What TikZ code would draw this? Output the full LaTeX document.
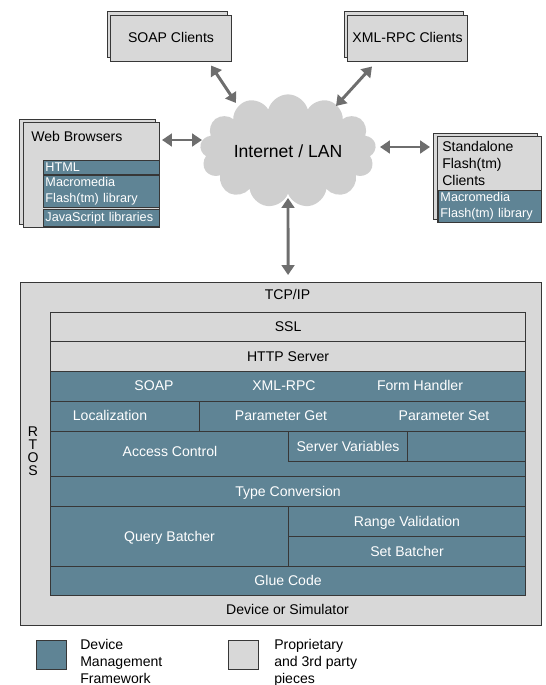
\documentclass[tikz,border=0pt]{standalone}
\usepackage{fontspec}
\setmainfont{Liberation Sans}
\usetikzlibrary{shapes.symbols,shadows,arrows.meta,calc}

\definecolor{dmfblue}{RGB}{95,132,149}
\definecolor{panegray}{RGB}{216,216,216}
\definecolor{cloudgray}{RGB}{207,207,207}
\definecolor{arrowgray}{RGB}{110,110,110}
\definecolor{edgegray}{RGB}{55,55,55}

\begin{document}
\begin{tikzpicture}[x=0.025cm, y=-0.025cm,
	font=\fontsize{10}{12}\selectfont,
	pane/.style={draw=edgegray, fill=panegray, line width=0.7pt, inner sep=0pt, text height=7pt, text depth=0pt},
	dmf/.style={draw=edgegray, fill=dmfblue, text=white, line width=0.7pt, inner sep=0pt, text height=7pt, text depth=0pt},
	client/.style={pane, copy shadow={shadow xshift=-0.9mm, shadow yshift=0.8mm, fill=panegray, draw=edgegray, line width=0.7pt}},
	sub/.style={dmf, anchor=north west, align=left, font=\fontsize{9}{11.5}\selectfont, inner xsep=0.05cm, inner ysep=0pt, text height=, text depth=},
	lbl/.style={inner sep=0pt, text height=7pt, text depth=0pt},
	wlbl/.style={lbl, text=white},
	txtblock/.style={inner sep=0pt, align=left, anchor=north west},
	conn/.style={draw=arrowgray, line width=2.1pt, {Triangle[length=7pt,width=9pt]}-{Triangle[length=7pt,width=9pt]}}
]
	\useasboundingbox (0,0) rectangle (546,685);

	\node[cloud, cloud puffs=13, aspect=1.75, fill=cloudgray, minimum width=4.4cm, minimum height=2.55cm, inner sep=0pt, font=\fontsize{12.5}{15}\selectfont] (net) at (288,151) {Internet / LAN};

	\node[client, minimum width=3cm, minimum height=1.15cm] (soap) at (171,38) {SOAP Clients};
	\node[client, minimum width=2.975cm, minimum height=1.15cm] (xmlrpc) at (407.5,38) {XML-RPC Clients};

	\node[client, anchor=north west, minimum width=3.4cm, minimum height=2.625cm] (web) at (23,122) {};
	\node[lbl, anchor=west] (webtxt) at (31,137) {Web Browsers};
	\node[sub, text width=2.8cm, minimum height=0.35cm] (html) at (43,160) {HTML};
	\node[sub, text width=2.8cm, minimum height=0.8cm] (flashlib) at (43,175) {Macromedia\\Flash(tm) library};
	\node[sub, text width=2.8cm, minimum height=0.425cm] (jslib) at (43,209) {JavaScript libraries};

	\node[client, anchor=north west, minimum width=2.6cm, minimum height=2.15cm] (standalone) at (437,136) {};
	\node[txtblock] (satxt) at (442,141) {Standalone\\Flash(tm)\\Clients};
	\node[sub, text width=2.475cm, minimum height=0.8cm] (saflash) at (438,190) {Macromedia\\Flash(tm) library};

	\node[pane, anchor=north west, minimum width=13.025cm, minimum height=8.575cm] (rtos) at (20,282) {};
	\node[lbl] (tcpip) at (287.5,295) {TCP/IP};
	\node[txtblock, anchor=north, align=center, font=\fontsize{10}{9.25}\selectfont] (rtostxt) at (33,427) {R\\T\\O\\S};
	\node[pane, anchor=north west, minimum width=11.875cm, minimum height=0.725cm] (ssl) at (50,312) {SSL};
	\node[pane, anchor=north west, minimum width=11.875cm, minimum height=0.75cm] (http) at (50,341) {HTTP Server};
	\node[dmf, anchor=north west, minimum width=11.875cm, minimum height=0.75cm] (proto) at (50,371) {};
	\node[wlbl] (soaplbl) at (154,386) {SOAP};
	\node[wlbl] (xmllbl) at (284,386) {XML-RPC};
	\node[wlbl] (formlbl) at (420,386) {Form Handler};
	\node[dmf, anchor=north west, minimum width=3.725cm, minimum height=0.75cm] (loc) at (50,401) {};
	\node[wlbl] (loclbl) at (110,416) {Localization};
	\node[dmf, anchor=north west, minimum width=8.15cm, minimum height=0.75cm] (param) at (199,401) {};
	\node[wlbl] (getlbl) at (281,416) {Parameter Get};
	\node[wlbl] (setlbl) at (444,416) {Parameter Set};
	\node[dmf, anchor=north west, minimum width=11.875cm, minimum height=1.125cm] (access) at (50,431) {};
	\node[wlbl] (acclbl) at (170,452) {Access Control};
	\node[dmf, anchor=north west, minimum width=2.975cm, minimum height=0.75cm] (srvvars) at (288,431) {Server Variables};
	\node[dmf, anchor=north west, minimum width=2.95cm, minimum height=0.75cm] (spare) at (407,431) {};
	\node[dmf, anchor=north west, minimum width=11.875cm, minimum height=0.75cm] (typeconv) at (50,476) {Type Conversion};
	\node[dmf, anchor=north west, minimum width=5.95cm, minimum height=1.5cm] (query) at (50,506) {Query Batcher};
	\node[dmf, anchor=north west, minimum width=5.925cm, minimum height=0.75cm] (range) at (288,506) {Range Validation};
	\node[dmf, anchor=north west, minimum width=5.925cm, minimum height=0.75cm] (setbatch) at (288,536) {Set Batcher};
	\node[dmf, anchor=north west, minimum width=11.875cm, minimum height=0.725cm] (glue) at (50,566) {Glue Code};
	\node[lbl] (device) at (287.5,610) {Device or Simulator};

	\node[dmf, anchor=north west, minimum width=0.75cm, minimum height=0.725cm] (legdmf) at (36,640) {};
	\node[txtblock] (legdmftxt) at (80,639) {Device\\Management\\Framework};
	\node[pane, anchor=north west, minimum width=0.75cm, minimum height=0.725cm] (legpane) at (228,640) {};
	\node[txtblock] (legpanetxt) at (274,639) {Proprietary\\and 3rd party\\pieces};

	\draw[conn] ($(soap.south)+(40,4)$) -- ($(net.center)+(-52,-48)$);
	\draw[conn] ($(xmlrpc.south)+(-35.5,5)$) -- ($(net.center)+(48,-45)$);
	\draw[conn] ($(web.north east)+(2,18)$) -- ($(net.center)+(-86,-11)$);
	\draw[conn] ($(net.center)+(92,-4)$) -- ($(standalone.north west)+(-7,11)$);
	\draw[conn] ($(net.center)+(0,47)$) -- ($(ssl.north)+(0,-37)$);

\end{tikzpicture}
\end{document}
